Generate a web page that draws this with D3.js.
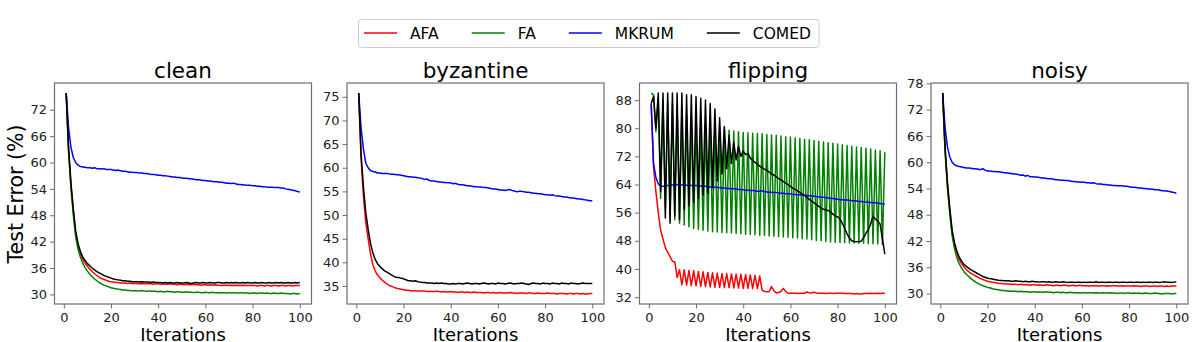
<!DOCTYPE html>
<html><head><meta charset="utf-8">
<script src="https://cdn.jsdelivr.net/npm/d3@7"></script>
<style>body{margin:0;background:#fff} svg{display:block} text{font-family:"DejaVu Sans",sans-serif}</style>
</head><body><svg id="c" width="1196" height="342"></svg>
<script>
const iterations = d3.range(1, 101);
const seriesNames = ["AFA", "FA", "MKRUM", "COMED"];
const seriesColors = ["#ff0000", "#008000", "#0000ff", "#000000"];
const panelTitles = ["clean", "byzantine", "flipping", "noisy"];
const xTicks = [0, 20, 40, 60, 80, 100];
const cleanTicks = [30, 36, 42, 48, 54, 60, 66, 72];
const byzTicks = [35, 40, 45, 50, 55, 60, 65, 70, 75];
const flipTicks = [32, 40, 48, 56, 64, 72, 80, 88];
const noisyTicks = [30, 36, 42, 48, 54, 60, 66, 72, 78];

// ---- clean ----
const cleanAFA = [75.8,63.0,55.0,49.0,43.8,41.0,39.3,38.0,37.1,36.4,
35.8,35.2,34.7,34.3,33.9,33.6,33.4,33.2,33.0,32.9,
32.8,32.7,32.7,32.6,32.6,32.6,32.5,32.6,32.5,32.5,
32.5,32.4,32.5,32.4,32.4,32.5,32.4,32.3,32.4,32.4,
32.3,32.4,32.3,32.3,32.4,32.3,32.3,32.2,32.3,32.3,
32.2,32.3,32.2,32.2,32.3,32.2,32.2,32.1,32.2,32.2,
32.1,32.2,32.1,32.2,32.1,32.1,32.0,32.1,32.1,32.0,
32.1,32.0,32.1,32.0,32.0,32.1,32.0,32.0,32.0,32.0,
32.0,31.9,32.0,32.0,31.9,32.0,32.0,31.9,32.0,32.0,
31.9,32.0,32.0,31.9,32.0,32.0,31.9,32.0,32.0,32.0];
const cleanFA = [75.8,62.5,54.2,48.2,43.2,40.3,38.5,37.1,36.1,35.3,
34.6,34.0,33.5,33.1,32.7,32.4,32.1,31.9,31.7,31.5,
31.4,31.3,31.2,31.1,31.0,31.0,30.9,30.9,30.8,30.9,
30.8,30.8,30.9,30.8,30.7,30.8,30.7,30.7,30.7,30.6,
30.7,30.6,30.6,30.7,30.6,30.6,30.5,30.6,30.6,30.5,
30.5,30.6,30.5,30.5,30.4,30.5,30.5,30.4,30.4,30.5,
30.4,30.4,30.5,30.4,30.4,30.3,30.4,30.4,30.3,30.4,
30.3,30.4,30.3,30.3,30.4,30.3,30.3,30.3,30.2,30.3,
30.3,30.2,30.3,30.3,30.2,30.3,30.2,30.2,30.3,30.2,
30.2,30.3,30.2,30.2,30.2,30.1,30.2,30.2,30.1,30.2];
const cleanMKRUM = [75.8,68.0,63.5,61.2,60.0,59.4,59.1,59.0,58.9,58.8,
58.8,58.7,58.8,58.6,58.6,58.5,58.6,58.4,58.4,58.4,
58.3,58.2,58.3,58.1,58.0,58.0,57.9,57.8,57.8,57.7,
57.7,57.6,57.6,57.5,57.5,57.4,57.3,57.3,57.2,57.1,
57.1,57.0,57.0,56.9,56.8,56.7,56.7,56.6,56.6,56.5,
56.4,56.4,56.3,56.3,56.2,56.1,56.1,56.0,55.9,55.9,
55.8,55.8,55.7,55.6,55.6,55.5,55.5,55.4,55.3,55.3,
55.2,55.3,55.1,55.0,55.0,54.9,54.9,54.8,54.8,54.7,
54.7,54.6,54.6,54.5,54.5,54.4,54.4,54.4,54.3,54.3,
54.3,54.2,54.2,54.0,53.9,53.8,53.7,53.6,53.4,53.3];
const cleanCOMED = [75.8,63.5,55.5,49.5,44.5,41.6,39.8,38.5,37.7,37.0,
36.5,36.0,35.6,35.2,34.9,34.6,34.3,34.1,33.9,33.7,
33.5,33.4,33.3,33.2,33.1,33.1,33.0,33.0,32.9,32.9,
32.9,32.8,32.9,32.8,32.8,32.8,32.7,32.8,32.7,32.7,
32.7,32.6,32.7,32.6,32.7,32.6,32.6,32.7,32.6,32.6,
32.6,32.7,32.6,32.5,32.6,32.7,32.6,32.6,32.7,32.6,
32.6,32.7,32.6,32.6,32.7,32.7,32.6,32.6,32.7,32.6,
32.7,32.6,32.7,32.6,32.6,32.7,32.6,32.7,32.6,32.6,
32.7,32.6,32.6,32.7,32.6,32.6,32.7,32.6,32.6,32.7,
32.6,32.7,32.6,32.6,32.7,32.6,32.6,32.7,32.6,32.7];

// ---- byzantine ----
const byzAFA = [75.8,62.0,54.0,48.5,45.0,41.8,39.5,38.2,37.3,36.7,
36.2,35.8,35.4,35.1,34.9,34.7,34.5,34.4,34.3,34.2,
34.1,34.1,34.0,34.0,34.0,33.9,33.9,33.9,33.9,33.8,
33.8,33.8,33.8,33.9,33.8,33.7,33.8,33.7,33.7,33.8,
33.7,33.7,33.6,33.7,33.7,33.6,33.7,33.6,33.6,33.7,
33.6,33.6,33.6,33.5,33.6,33.6,33.5,33.6,33.5,33.5,
33.6,33.5,33.5,33.5,33.6,33.5,33.5,33.4,33.5,33.5,
33.5,33.4,33.5,33.5,33.4,33.4,33.5,33.4,33.4,33.4,
33.5,33.4,33.4,33.4,33.3,33.4,33.4,33.4,33.3,33.4,
33.4,33.3,33.4,33.4,33.3,33.4,33.3,33.3,33.4,33.4];
const byzMKRUM = [75.8,68.5,64.0,61.0,60.0,59.4,59.2,59.1,58.9,58.9,
58.8,58.8,58.8,58.7,58.6,58.6,58.5,58.5,58.4,58.3,
58.2,58.1,58.1,58.0,58.0,57.9,57.8,57.7,57.5,57.6,
57.3,57.2,57.2,57.1,57.0,57.0,56.9,56.9,56.8,56.8,
56.6,56.7,56.5,56.4,56.4,56.3,56.2,56.2,56.1,56.0,
56.0,55.9,55.9,55.8,55.8,55.7,55.6,55.5,55.5,55.4,
55.3,55.3,55.2,55.3,55.4,55.2,55.1,54.9,55.0,55.0,
54.9,54.8,54.8,54.7,54.6,54.6,54.5,54.5,54.4,54.3,
54.3,54.2,54.3,54.1,54.0,54.0,53.9,53.8,53.8,53.7,
53.6,53.6,53.5,53.4,53.4,53.3,53.2,53.1,53.0,53.0];
const byzCOMED = [75.8,63.0,56.0,50.5,47.0,44.0,42.0,40.6,39.7,39.1,
38.6,38.2,37.9,37.6,37.3,37.0,36.8,36.8,36.6,36.5,
36.3,36.1,36.1,36.0,36.1,35.9,35.8,35.7,35.7,35.6,
35.6,35.6,35.5,35.6,35.5,35.6,35.5,35.5,35.4,35.4,
35.5,35.4,35.5,35.5,35.4,35.5,35.6,35.5,35.4,35.5,
35.5,35.4,35.5,35.6,35.5,35.4,35.5,35.5,35.4,35.6,
35.5,35.5,35.4,35.5,35.6,35.5,35.4,35.5,35.5,35.6,
35.5,35.4,35.3,35.5,35.6,35.5,35.5,35.4,35.6,35.5,
35.5,35.4,35.6,35.5,35.5,35.4,35.6,35.5,35.5,35.4,
35.6,35.5,35.5,35.4,35.5,35.6,35.5,35.5,35.5,35.5];

// ---- flipping ----
const flipAFA = [87.0,69.0,62.0,56.0,51.0,48.5,46.0,44.8,43.5,42.2,
42.0,37.6,39.8,35.5,39.8,35.4,39.6,35.3,39.5,35.2,
39.3,35.0,39.2,35.0,39.0,34.9,38.9,34.8,38.8,34.8,
38.7,34.7,38.7,34.7,38.6,34.6,38.5,34.6,38.5,34.5,
38.4,34.5,38.3,34.4,38.2,34.4,38.0,34.0,33.6,33.5,
33.6,35.0,33.8,33.2,33.3,33.6,34.5,33.6,33.1,33.1,
33.1,33.1,33.0,33.1,33.1,33.1,33.5,33.2,33.2,33.4,
33.2,33.1,33.1,33.1,33.0,33.1,33.1,33.0,33.1,33.1,
33.1,33.1,33.0,33.0,33.0,33.0,32.9,33.0,32.9,32.9,
33.0,33.0,33.0,33.1,33.0,33.0,33.1,33.0,33.1,33.1];
const flipFA = [90.0,89.5,79.0,88.5,60.0,88.0,57.0,87.5,55.0,87.0,
54.0,86.0,53.0,85.0,52.5,84.0,52.0,83.0,51.5,82.0,
51.2,81.5,51.0,81.0,50.8,80.5,50.6,80.0,50.5,79.8,
50.4,79.6,50.3,79.4,50.2,79.2,50.1,79.0,50.0,78.8,
49.9,78.7,49.8,78.6,49.7,78.5,49.6,78.4,49.5,78.2,
49.4,78.1,49.3,78.0,49.2,77.8,49.1,77.6,49.0,77.5,
48.9,77.3,48.8,77.1,48.6,76.9,48.5,76.7,48.3,76.5,
48.1,76.3,48.0,76.1,47.8,75.9,47.7,75.7,47.6,75.5,
47.5,75.3,47.5,75.1,47.4,74.9,47.4,74.7,47.3,74.5,
47.3,74.3,47.2,74.1,47.2,73.8,47.1,73.6,47.0,73.2];
const flipMKRUM = [87.0,70.0,66.0,64.2,63.6,63.5,63.6,63.7,63.8,63.9,
63.9,64.0,63.9,63.9,63.8,63.8,63.8,63.7,63.7,63.7,
63.6,63.6,63.5,63.5,63.4,63.3,63.3,63.2,63.2,63.1,
63.0,63.0,62.9,62.9,62.8,62.8,62.7,62.6,62.6,62.5,
62.4,62.4,62.3,62.3,62.2,62.1,62.1,62.2,62.0,61.9,
61.8,61.8,61.7,61.7,61.6,61.5,61.5,61.4,61.4,61.3,
61.2,61.2,61.1,61.1,61.0,60.9,60.9,60.8,60.8,60.7,
60.5,60.5,60.4,60.4,60.3,60.2,60.1,60.0,59.9,59.8,
59.7,59.7,59.6,59.6,59.5,59.4,59.4,59.3,59.2,59.2,
59.1,59.0,59.0,58.9,58.8,58.8,58.7,58.6,58.5,58.4];
const flipCOMED = [87.0,89.0,80.0,90.0,62.0,90.0,54.5,90.0,53.0,90.0,
55.0,90.0,54.0,90.0,57.0,89.5,58.0,89.5,59.0,89.0,
60.0,88.5,61.0,88.0,61.5,87.0,63.0,85.5,65.0,83.0,
67.0,80.5,68.5,78.0,70.0,76.0,71.0,74.8,72.0,73.5,
72.5,72.8,71.5,70.8,70.3,69.8,69.2,68.8,68.4,68.0,
67.5,67.0,66.7,66.2,65.7,65.3,64.8,64.4,64.0,63.5,
63.0,62.6,62.2,61.8,61.3,60.9,60.3,59.8,59.3,58.8,
58.3,57.8,57.3,57.0,56.8,56.6,56.2,55.6,55.1,54.8,
54.2,53.0,51.5,50.0,48.8,48.0,47.8,47.7,47.8,47.9,
48.8,50.2,51.2,52.8,55.0,54.2,53.6,52.8,48.5,44.2];

// ---- noisy ----
const noisyAFA = [75.8,63.0,55.0,49.0,43.8,41.0,39.2,37.8,36.8,36.1,
35.5,35.0,34.6,34.3,34.0,33.7,33.4,33.2,33.0,32.8,
32.7,32.6,32.5,32.4,32.3,32.3,32.2,32.2,32.2,32.1,
32.1,32.1,32.0,32.1,32.0,32.0,32.0,31.9,32.0,32.0,
31.9,32.0,31.9,31.9,32.0,31.9,31.9,31.8,31.9,31.9,
31.8,31.9,31.9,31.8,31.8,31.9,31.8,31.8,31.9,31.8,
31.8,31.8,31.7,31.8,31.8,31.8,31.7,31.8,31.8,31.7,
31.8,31.7,31.8,31.8,31.7,31.7,31.8,31.7,31.7,31.7,
31.7,31.8,31.7,31.7,31.6,31.7,31.7,31.7,31.6,31.7,
31.7,31.6,31.7,31.7,31.6,31.7,31.6,31.7,31.7,31.7];
const noisyFA = [75.8,62.5,54.2,48.2,43.2,40.2,38.2,36.8,35.8,35.0,
34.4,33.9,33.4,33.0,32.6,32.3,32.0,31.8,31.6,31.4,
31.3,31.1,31.0,30.9,30.8,30.7,30.7,30.6,30.6,30.5,
30.5,30.5,30.4,30.5,30.4,30.4,30.4,30.3,30.4,30.4,
30.3,30.4,30.3,30.3,30.4,30.3,30.3,30.2,30.3,30.3,
30.2,30.3,30.2,30.2,30.3,30.2,30.2,30.2,30.1,30.2,
30.2,30.1,30.2,30.2,30.1,30.2,30.1,30.1,30.2,30.1,
30.1,30.2,30.1,30.1,30.0,30.1,30.1,30.0,30.1,30.1,
30.0,30.1,30.0,30.1,30.0,30.0,30.1,30.0,30.0,30.0,
30.1,30.0,30.0,29.9,30.0,30.0,30.0,29.9,30.0,30.0];
const noisyMKRUM = [75.8,68.0,63.5,61.2,60.0,59.4,59.2,59.0,58.9,58.8,
58.7,58.7,58.6,58.5,58.5,58.4,58.3,58.5,58.2,58.0,
58.0,57.9,57.9,57.8,57.8,57.7,57.6,57.6,57.5,57.4,
57.3,57.3,57.2,57.0,57.1,56.8,57.0,56.7,56.7,56.6,
56.6,56.5,56.4,56.4,56.3,56.2,56.2,56.1,56.0,56.0,
55.9,55.9,55.8,55.8,55.7,55.6,55.6,55.5,55.5,55.4,
55.4,55.3,55.3,55.2,55.3,55.1,55.0,55.0,54.9,54.9,
54.8,54.8,54.7,54.7,54.6,54.6,54.6,54.5,54.5,54.4,
54.3,54.3,54.2,54.1,54.1,54.0,54.0,53.9,53.9,53.8,
53.7,53.7,53.6,53.5,53.5,53.4,53.3,53.2,53.1,52.9];
const noisyCOMED = [75.8,63.5,55.5,49.5,44.5,41.6,39.7,38.3,37.4,36.7,
36.2,35.8,35.4,35.1,34.8,34.5,34.2,33.9,33.7,33.5,
33.4,33.3,33.2,33.1,33.0,33.0,32.9,32.9,32.9,32.8,
32.8,32.9,32.8,32.8,32.7,32.8,32.7,32.7,32.8,32.7,
32.7,32.6,32.7,32.7,32.6,32.7,32.6,32.6,32.7,32.6,
32.6,32.7,32.6,32.5,32.6,32.6,32.5,32.6,32.6,32.5,
32.6,32.5,32.6,32.6,32.5,32.7,32.5,32.6,32.6,32.5,
32.6,32.6,32.5,32.6,32.6,32.5,32.6,32.6,32.5,32.6,
32.6,32.5,32.6,32.6,32.5,32.6,32.5,32.6,32.6,32.5,
32.6,32.6,32.5,32.6,32.7,32.6,32.6,32.5,32.6,32.7];

const panels = [
  {title: panelTitles[0], ticks: cleanTicks, data: [cleanAFA, cleanFA, cleanMKRUM, cleanCOMED]},
  {title: panelTitles[1], ticks: byzTicks, data: [byzAFA, null, byzMKRUM, byzCOMED]},
  {title: panelTitles[2], ticks: flipTicks, data: [flipAFA, flipFA, flipMKRUM, flipCOMED]},
  {title: panelTitles[3], ticks: noisyTicks, data: [noisyAFA, noisyFA, noisyMKRUM, noisyCOMED]}
];

const svg = d3.select("#c");
const W = 257, H = 221, TOP = 83;
const lefts = [54.5, 347, 639.5, 931];
const frameColor = "#6f6f6f";

panels.forEach((p, i) => {
  const g = svg.append("g").attr("transform", `translate(${lefts[i]},${TOP})`);
  const all = p.data.filter(d => d).flat();
  const [mn, mx] = d3.extent(all);
  const pad = (mx - mn) * 0.05;
  const y = d3.scaleLinear().domain([mn - pad, mx + pad]).range([H, 0]);
  const x = d3.scaleLinear().domain([1 - 99 * 0.05, 100 + 99 * 0.05]).range([0, W]);

  g.append("clipPath").attr("id", "clip" + i)
    .append("rect").attr("width", W).attr("height", H);

  const line = d3.line().x((d, k) => x(iterations[k])).y(d => y(d));
  const lg = g.append("g").attr("clip-path", `url(#clip${i})`);
  p.data.forEach((vals, s) => {
    if (!vals) return;
    lg.append("path").datum(vals)
      .attr("d", line)
      .attr("fill", "none")
      .attr("stroke", seriesColors[s])
      .attr("stroke-width", 1.5)
      .attr("stroke-linejoin", "round");
  });

  const ya = g.append("g").call(d3.axisLeft(y).tickValues(p.ticks).tickSize(4.5).tickPadding(3));
  const xa = g.append("g").attr("transform", `translate(0,${H})`)
    .call(d3.axisBottom(x).tickValues(xTicks).tickSize(4.5).tickPadding(4));
  [ya, xa].forEach(a => {
    a.select(".domain").remove();
    a.selectAll(".tick line").attr("stroke", frameColor).attr("stroke-width", 1);
    a.selectAll(".tick text").attr("font-size", 13).attr("fill", "#222")
      .attr("font-family", "DejaVu Sans");
  });

  g.append("rect").attr("width", W).attr("height", H)
    .attr("fill", "none").attr("stroke", frameColor).attr("stroke-width", 1.2);

  g.append("text").attr("x", W / 2).attr("y", -5)
    .attr("text-anchor", "middle").attr("font-size", 21.5).attr("fill", "#000")
    .text(p.title);

  g.append("text").attr("x", W / 2).attr("y", 341 - TOP)
    .attr("text-anchor", "middle").attr("font-size", 18).attr("fill", "#000")
    .text("Iterations");
});

svg.append("text")
  .attr("transform", `translate(22.5,194) rotate(-90)`)
  .attr("text-anchor", "middle").attr("font-size", 20.5).attr("fill", "#000")
  .text("Test Error (%)");

// legend
const leg = svg.append("g");
const legBox = leg.append("rect").attr("x", 358.5).attr("y", 19.5).attr("height", 28)
  .attr("rx", 3).attr("fill", "#fff").attr("stroke", "#cccccc").attr("stroke-width", 1);
let lx = 364;
seriesNames.forEach((n, s) => {
  leg.append("line").attr("x1", lx).attr("x2", lx + 33).attr("y1", 33).attr("y2", 33)
    .attr("stroke", seriesColors[s]).attr("stroke-width", 1.5);
  const t = leg.append("text").attr("x", lx + 46).attr("y", 33).attr("dy", "0.36em")
    .attr("font-size", 15.5).attr("fill", "#000").text(n);
  const w = t.node().getComputedTextLength();
  lx += 46 + w + (s < seriesNames.length - 1 ? 33 : 8);
});
legBox.attr("width", lx - 358.5);
</script></body></html>
